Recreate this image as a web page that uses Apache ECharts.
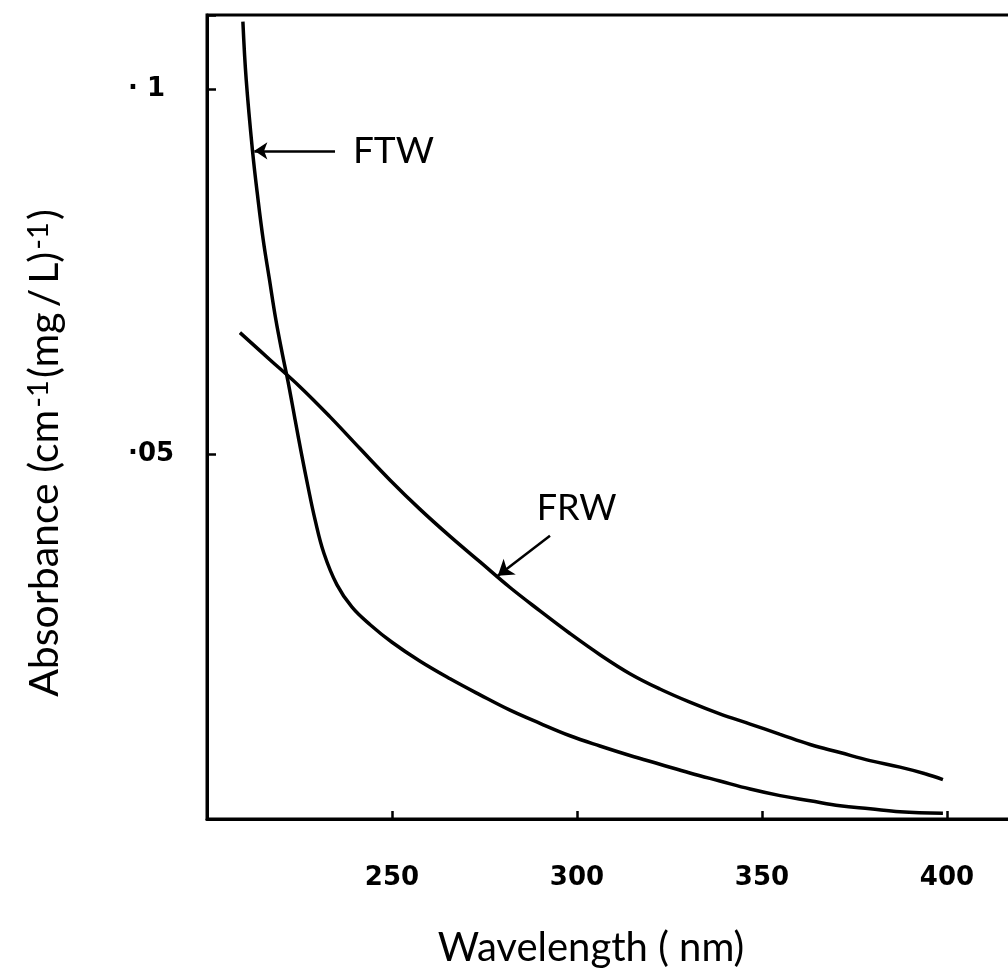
<!DOCTYPE html>
<html>
<head>
<meta charset="utf-8">
<script src="https://cdn.jsdelivr.net/npm/echarts@6/dist/echarts.min.js"></script>
<style>
  html, body { margin: 0; padding: 0; background: #fff; }
  #chart { width: 1008px; height: 969px; }
</style>
</head>
<body>
<div id="chart"></div>
<script>
// Axis ticks and their printed labels
const wavelengthTicks = [250, 300, 350, 400];
const absorbanceTicks = [0.05, 0.1];
const absorbanceTickLabels = ['·05', '· 1'];

// FTW spectrum: wavelength (nm) and specific absorbance
const ftwWavelength = [209.7, 210.6, 212.3, 213.8, 215.2, 216.9, 218.6, 220.4, 221.9, 223.8,
  225.5, 227.3, 229.2, 231.6, 235.1, 239.2, 244.1, 250.0, 257.6, 265.7, 273.8, 281.9, 290.0,
  298.1, 306.2, 314.3, 322.4, 330.5, 338.6, 346.8, 354.9, 363.0, 371.1, 379.2, 387.3, 398.9];
const ftwAbsorbance = [0.1092, 0.1012, 0.0915, 0.0848, 0.0793, 0.0738, 0.0684, 0.0636, 0.0599, 0.0547,
  0.0501, 0.0455, 0.0410, 0.0364, 0.0321, 0.0290, 0.0266, 0.0242, 0.0216, 0.0192, 0.0170, 0.0149, 0.0131,
  0.0114, 0.0100, 0.0087, 0.0075, 0.0063, 0.0052, 0.0041, 0.0032, 0.0025, 0.0018, 0.0014, 0.0010, 0.0008];

// FRW spectrum
const frwWavelength = [208.9, 217.0, 225.1, 233.2, 241.4, 249.5, 257.6, 265.7, 273.8, 281.9,
  290.0, 298.1, 306.2, 314.3, 322.4, 330.5, 338.6, 346.8, 354.9, 363.0, 371.1, 379.2, 387.3,
  394.1, 398.9];
const frwAbsorbance = [0.0666, 0.0629, 0.0592, 0.0551, 0.0507, 0.0464, 0.0424, 0.0387, 0.0352, 0.0317,
  0.0285, 0.0254, 0.0225, 0.0199, 0.0178, 0.0160, 0.0144, 0.0130, 0.0116, 0.0102, 0.0091, 0.0080, 0.0071,
  0.0062, 0.0054];

// Callout arrows (tail, head) and label anchors, in data units
const ftwArrow = [[234.6, 0.0915], [212.8, 0.0915]];
const frwArrow = [[292.7, 0.0388], [278.6, 0.0333]];
const ftwLabelAt = [239.3, 0.0915];
const frwLabelAt = [299.9, 0.0425];

const ink = '#000';
const pairs = (xs, ys) => xs.map((x, i) => [x, ys[i]]);

const chart = echarts.init(document.getElementById('chart'), null, { renderer: 'canvas' });

function callout(arrow, labelAt, text, headSize, labelOpts) {
  return {
    markLine: {
      silent: true,
      animation: false,
      symbol: ['none', 'arrow'],
      symbolSize: [1, headSize],
      lineStyle: { color: ink, width: 2.5, type: 'solid' },
      itemStyle: { color: ink },
      label: { show: false },
      data: [[
        { coord: arrow[0], symbol: 'none' },
        { coord: arrow[1], symbol: 'arrow', symbolSize: headSize }
      ]]
    },
    markPoint: {
      silent: true,
      animation: false,
      symbol: 'circle',
      symbolSize: 1,
      itemStyle: { color: 'rgba(0,0,0,0)' },
      data: [{
        coord: labelAt,
        label: Object.assign({
          show: true,
          formatter: text,
          color: ink,
          fontFamily: 'Lato',
          fontSize: 37
        }, labelOpts)
      }]
    }
  };
}

const option = {
  backgroundColor: '#fff',
  animation: false,
  grid: {
    show: true,
    left: 207,
    top: 15,
    right: -13,
    bottom: 150,
    outerBoundsMode: 'none',
    containLabel: false,
    borderColor: ink,
    borderWidth: 3,
    backgroundColor: 'transparent'
  },
  xAxis: {
    type: 'value',
    min: 200,
    max: 420,
    interval: 50,
    name: 'Wavelength ( nm)',
    nameLocation: 'middle',
    nameGap: 109,
    nameTextStyle: { fontFamily: 'Lato', fontSize: 40, color: ink, padding: [0, 46, 0, 0] },
    axisLine: { show: true, onZero: false, lineStyle: { color: ink, width: 3 } },
    axisTick: { show: true, inside: true, length: 8, lineStyle: { color: ink, width: 2.5 } },
    splitLine: { show: false },
    axisLabel: {
      margin: 46,
      color: ink,
      fontFamily: 'DejaVu Sans',
      fontWeight: 'bold',
      fontSize: 26,
      formatter: v => (wavelengthTicks.indexOf(v) >= 0 ? String(v) : '')
    }
  },
  yAxis: {
    type: 'value',
    min: 0,
    max: 0.1101,
    interval: 0.05,
    name: '{n|Absorbance (cm}{s|-1}{n|(mg\u2009/\u2009L)}{s|-1}{n|)}',
    nameLocation: 'middle',
    nameRotate: 90,
    nameGap: 142,
    nameTextStyle: {
      padding: [0, 72, 0, 0],
      rich: {
        n: { fontFamily: 'Lato', fontSize: 41, color: ink },
        s: { fontFamily: 'Lato', fontSize: 29, color: ink, verticalAlign: 'top', padding: [0, 2, 0, 2] }
      }
    },
    axisLine: { show: true, onZero: false, lineStyle: { color: ink, width: 3 } },
    axisTick: { show: true, inside: true, length: 9, lineStyle: { color: ink, width: 2.5 } },
    splitLine: { show: false },
    axisLabel: {
      align: 'left',
      margin: 79,
      color: ink,
      fontFamily: 'DejaVu Sans',
      fontWeight: 'bold',
      fontSize: 26,
      formatter: v => {
        const i = absorbanceTicks.findIndex(t => Math.abs(t - v) < 1e-9);
        return i >= 0 ? absorbanceTickLabels[i] : '';
      }
    }
  },
  series: [
    Object.assign({
      name: 'FTW',
      type: 'line',
      data: pairs(ftwWavelength, ftwAbsorbance),
      showSymbol: false,
      smooth: 0.4,
      lineStyle: { color: ink, width: 3.5 },
      itemStyle: { color: ink }
    }, callout(ftwArrow, ftwLabelAt, 'FTW', 13, { position: 'right', distance: 0 })),
    Object.assign({
      name: 'FRW',
      type: 'line',
      data: pairs(frwWavelength, frwAbsorbance),
      showSymbol: false,
      smooth: 0.4,
      lineStyle: { color: ink, width: 3.5 },
      itemStyle: { color: ink }
    }, callout(frwArrow, frwLabelAt, 'FRW', 15, { position: 'inside', fontSize: 36 }))
  ]
};

chart.setOption(option);
</script>
</body>
</html>
